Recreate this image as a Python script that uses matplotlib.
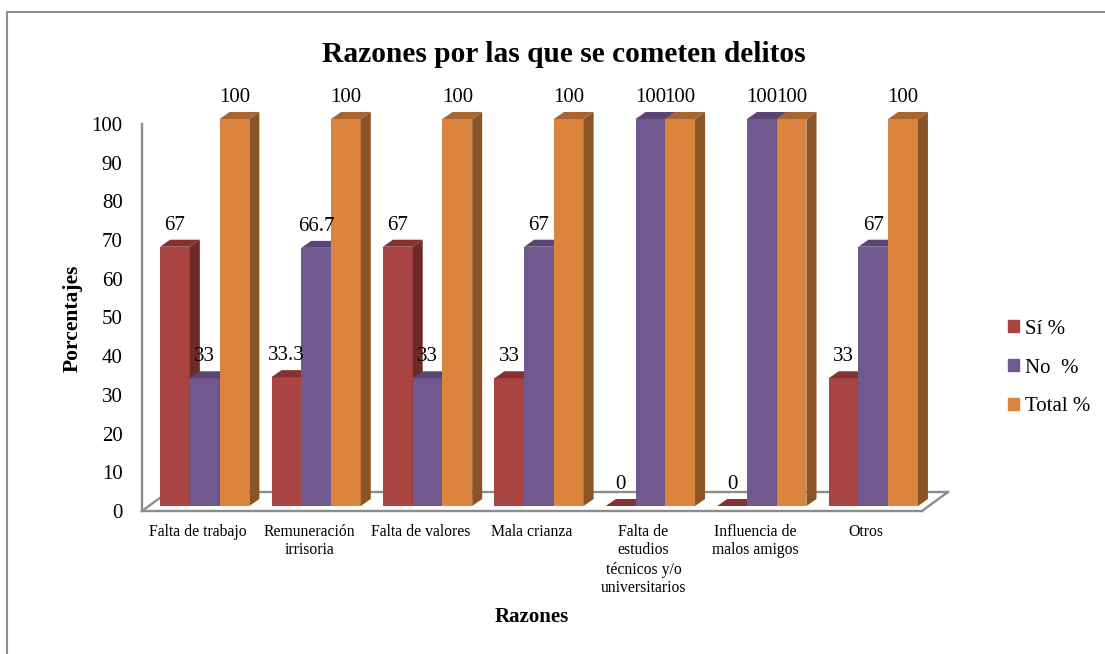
import matplotlib
matplotlib.use('Agg')
from matplotlib import pyplot as plt
from matplotlib.patches import Patch, Polygon
from matplotlib.transforms import Affine2D

plt.rcParams['font.family'] = ['Liberation Serif', 'DejaVu Serif']

razones = ['Falta de trabajo', 'Remuneración\nirrisoria', 'Falta de valores', 'Mala crianza',
           'Falta de\nestudios\ntécnicos y/o\nuniversitarios', 'Influencia de\nmalos amigos', 'Otros']
si = [67, 33.3, 67, 33, 0, 0, 33]
no = [33, 66.7, 33, 67, 100, 100, 67]
total = [100, 100, 100, 100, 100, 100, 100]
si_txt = ['67', '33.3', '67', '33', '0', '0', '33']
no_txt = ['33', '66.7', '33', '67', '100', '100', '67']
total_txt = ['100', '100', '100', '100', '100', '100', '100']
yticks = list(range(0, 101, 10))

W, H = 1105, 654
GREY = '#8c8c8c'
# front, side, top face colours
series = [
    (si, si_txt, 'Sí %', '#a94442', '#6e2a2a', '#86312f'),
    (no, no_txt, 'No  %', '#71588f', '#4e3c66', '#5a4672'),
    (total, total_txt, 'Total %', '#db843d', '#8a5427', '#a8652f'),
]

fig = plt.figure(figsize=(W / 100, H / 100), dpi=100)
ax = fig.add_axes([142 / W, (H - 511) / H, 780 / W, 387 / H])
ax.set_xlim(-0.5, 6.5)
ax.set_ylim(0, 100)
ax.patch.set_visible(False)
for s in ax.spines.values():
    s.set_visible(False)

# depth of the fake 3d look
bar_w = 0.267
dx = 10 / 111.43
dy = 7 / 3.87
# bars stand a bit behind the axis plane
front = ax.transData + Affine2D().translate(7, 5)

# floor and left wall
floor_dx = 26 / 111.43
floor_dy = 19 / 3.87
lk = dict(color=GREY, lw=1.7, clip_on=False, zorder=1)
ax.plot([-0.5, -0.5], [0, 100], **lk)
ax.plot([-0.5, 6.5], [0, 0], **lk)
ax.plot([6.5, 6.5 + floor_dx], [0, floor_dy], **lk)
ax.plot([-0.5, -0.5 + floor_dx], [0, floor_dy], **lk)
ax.plot([-0.5 + floor_dx, 6.5 + floor_dx], [floor_dy, floor_dy], **lk)

z = 2
for i in range(len(razones)):
    for j, (vals, txts, name, c, c_side, c_top) in enumerate(series):
        v = vals[i]
        x0 = i - 1.5 * bar_w + j * bar_w
        x1 = x0 + bar_w
        ax.bar(x0, v, bar_w, align='edge', color=c, transform=front, zorder=z, clip_on=False)
        ax.add_patch(Polygon([(x1, 0), (x1 + dx, dy), (x1 + dx, v + dy), (x1, v)], fc=c_side, ec='none',
                             transform=front, zorder=z, clip_on=False))
        ax.add_patch(Polygon([(x0, v), (x0 + dx, v + dy), (x1 + dx, v + dy), (x1, v)], fc=c_top, ec='none',
                             transform=front, zorder=z, clip_on=False))
        z += 1

# data labels on top of everything
for i in range(len(razones)):
    for j, (vals, txts, name, c, c_side, c_top) in enumerate(series):
        x0 = i - 1.5 * bar_w + j * bar_w
        ax.annotate(txts[i], (x0 + bar_w / 2, vals[i]), xycoords=front, xytext=(0, 15.5),
                    textcoords='offset points', ha='center', va='center', fontsize=15, zorder=100,
                    annotation_clip=False)

ax.set_yticks(yticks)
ax.tick_params(axis='y', length=0, pad=14, labelsize=15)
ax.set_xticks(range(len(razones)))
ax.set_xticklabels(razones, fontsize=11.3, linespacing=1.25, va='top')
ax.tick_params(axis='x', length=0, pad=9)

fig.text(564 / W, 1 - 54 / H, 'Razones por las que se cometen delitos', fontsize=21.2, fontweight='bold',
         ha='center', va='center')
fig.text(532 / W, 1 - 617 / H, 'Razones', fontsize=15, fontweight='bold', ha='center', va='center')
fig.text(73 / W, 1 - 318 / H, 'Porcentajes', fontsize=15.5, fontweight='bold', rotation=90,
         ha='center', va='center')

handles = [Patch(color=s[3], label=s[2]) for s in series]
fig.legend(handles=handles, loc='center left', bbox_to_anchor=(1008 / W, 1 - 368 / H), frameon=False,
           fontsize=15, handlelength=0.53, handleheight=0.53, handletextpad=0.3, labelspacing=0.95,
           borderpad=0, borderaxespad=0)

# outer chart border, only left and top show
fig.add_artist(plt.Line2D([7 / W, 7 / W, 1], [0, 1 - 12 / H, 1 - 12 / H], color=GREY, lw=1.5))

fig.savefig('out.png', dpi=100)
